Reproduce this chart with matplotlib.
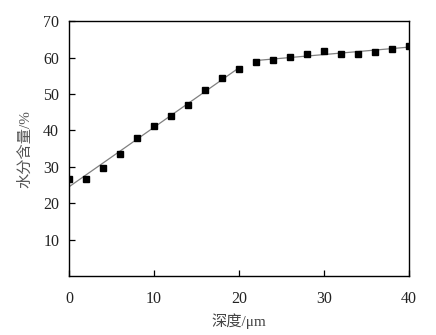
import matplotlib
matplotlib.use('Agg')
import matplotlib.pyplot as plt
import numpy as np

plt.rcParams['font.family'] = ['Liberation Serif', 'Noto Sans CJK SC']
plt.rcParams['mathtext.fontset'] = 'stix'

# depth (um) and moisture content (%)
depth = [0, 2, 4, 6, 8, 10, 12, 14, 16, 18, 20,
         22, 24, 26, 28, 30, 32, 34, 36, 38, 40]
moisture = [26.6, 26.7, 29.8, 33.4, 37.8, 41.3, 44.0, 47.0, 51.1, 54.4, 56.9,
            58.8, 59.3, 60.2, 61.0, 61.7, 61.0, 61.0, 61.6, 62.4, 63.2]
split_depth = 20

xticks = [0, 10, 20, 30, 40]
yticks = [10, 20, 30, 40, 50, 60, 70]

d = np.array(depth)
m = np.array(moisture)

fig = plt.figure(figsize=(4.36, 3.35), dpi=100)
ax = fig.add_axes([0.158, 0.176, 0.780, 0.761])

# separate linear fits for the two regimes
for sel in (d <= split_depth, d > split_depth):
    k, b = np.polyfit(d[sel], m[sel], 1)
    xs = np.array([d[sel].min(), d[sel].max()])
    ax.plot(xs, k * xs + b, color='#808080', lw=0.9, zorder=2)

ax.plot(d, m, linestyle='none', marker='s', ms=4.6, color='black', zorder=3)

ax.set_xlim(0, 40)
ax.set_ylim(0, 70)
ax.set_xticks(xticks)
ax.set_yticks(yticks)
ax.tick_params(direction='in', length=4, width=0.9, labelsize=11.5,
               labelcolor='#222222')
ax.tick_params(axis='x', pad=11)
ax.tick_params(axis='y', pad=7)
for s in ax.spines.values():
    s.set_linewidth(1.0)

ax.set_xlabel('深度/μm', fontsize=11, color='#444444', labelpad=4)
ax.set_ylabel('水分含量/%', fontsize=11, color='#555555', labelpad=8)

fig.savefig('out.png', dpi=100)
